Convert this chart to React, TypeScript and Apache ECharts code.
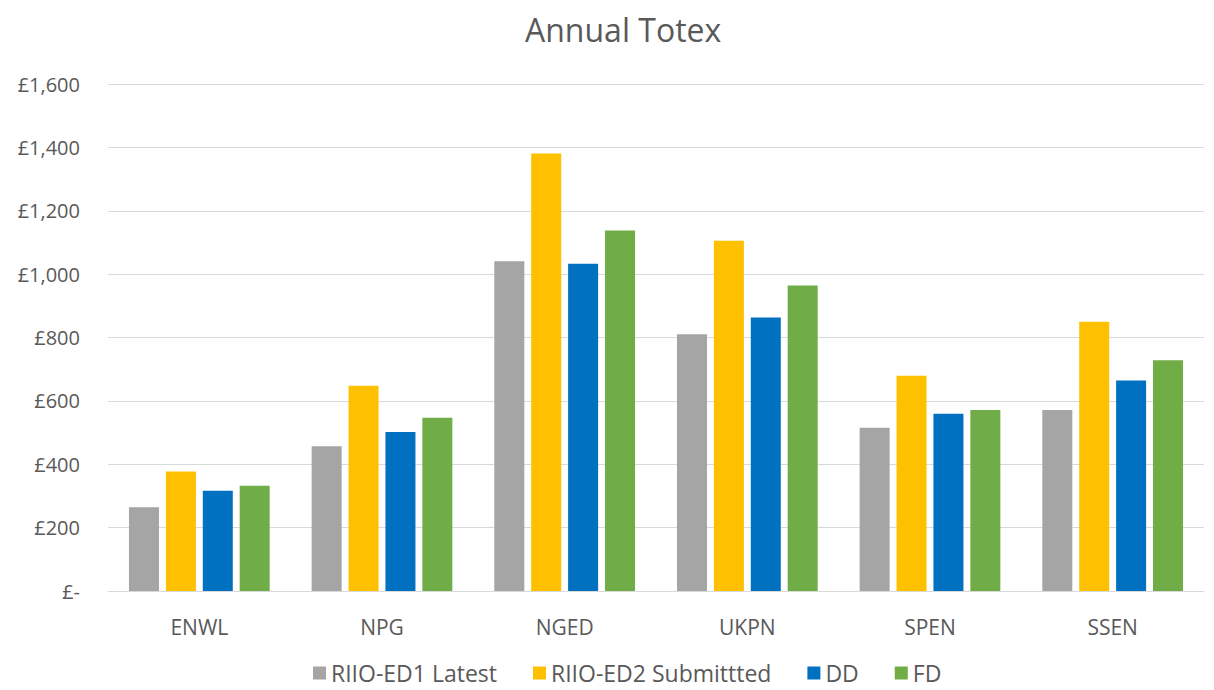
import React, { useEffect, useRef } from "react";
import * as echarts from "echarts";

const categories = ["ENWL", "NPG", "NGED", "UKPN", "SPEN", "SSEN"];
const seriesNames = ["RIIO-ED1 Latest", "RIIO-ED2 Submittted", "DD", "FD"];
const ed1Latest = [264, 457, 1041, 810, 515, 571];
const ed2Submitted = [377, 648, 1381, 1105, 679, 850];
const ddValues = [316, 502, 1033, 863, 559, 664];
const fdValues = [332, 547, 1138, 964, 571, 728];
const colors = ["#a5a5a5", "#ffc000", "#0070c0", "#70ad47"];

const FONT = "'Open Sans', sans-serif";

export default function App() {
  const ref = useRef<HTMLDivElement>(null);
  useEffect(() => {
    if (!ref.current) return;
    const chart = echarts.init(ref.current, undefined, { renderer: "svg" });
    const data = [ed1Latest, ed2Submitted, ddValues, fdValues];
    chart.setOption({
      animation: false,
      backgroundColor: "#ffffff",
      title: {
        text: "Annual Totex",
        left: 520,
        top: 8,
        textStyle: { fontFamily: FONT, fontSize: 32, fontWeight: "normal", color: "#595959" },
      },
      legend: {
        data: seriesNames,
        top: 661,
        left: 313,
        padding: 0,
        itemWidth: 13,
        itemHeight: 13,
        itemGap: 36,
        icon: "rect",
        textStyle: { fontFamily: FONT, fontSize: 23, color: "#595959", lineHeight: 24 },
      },
      grid: { left: 108, right: 10, top: 84, bottom: 99, containLabel: false },
      xAxis: {
        type: "category",
        data: categories,
        axisLine: { lineStyle: { color: "#d9d9d9", width: 1 } },
        axisTick: { show: false },
        axisLabel: { fontFamily: FONT, fontSize: 21, color: "#595959", margin: 25 },
      },
      yAxis: {
        type: "value",
        min: 0,
        max: 1600,
        interval: 200,
        axisLine: { show: false },
        axisTick: { show: false },
        splitLine: { lineStyle: { color: "#d9d9d9", width: 1 } },
        axisLabel: {
          fontFamily: FONT,
          fontSize: 20,
          color: "#595959",
          margin: 28,
          formatter: (v: number) => (v === 0 ? "£-" : "£" + v.toLocaleString("en-GB")),
        },
      },
      series: seriesNames.map((name, i) => ({
        name,
        type: "bar",
        data: data[i],
        barWidth: 30,
        barGap: "23%",
        itemStyle: { color: colors[i] },
      })),
    });
    return () => chart.dispose();
  }, []);
  return (
    <div
      ref={ref}
      style={{ position: "fixed", left: 0, top: 0, width: 1214, height: 690 }}
    />
  );
}
